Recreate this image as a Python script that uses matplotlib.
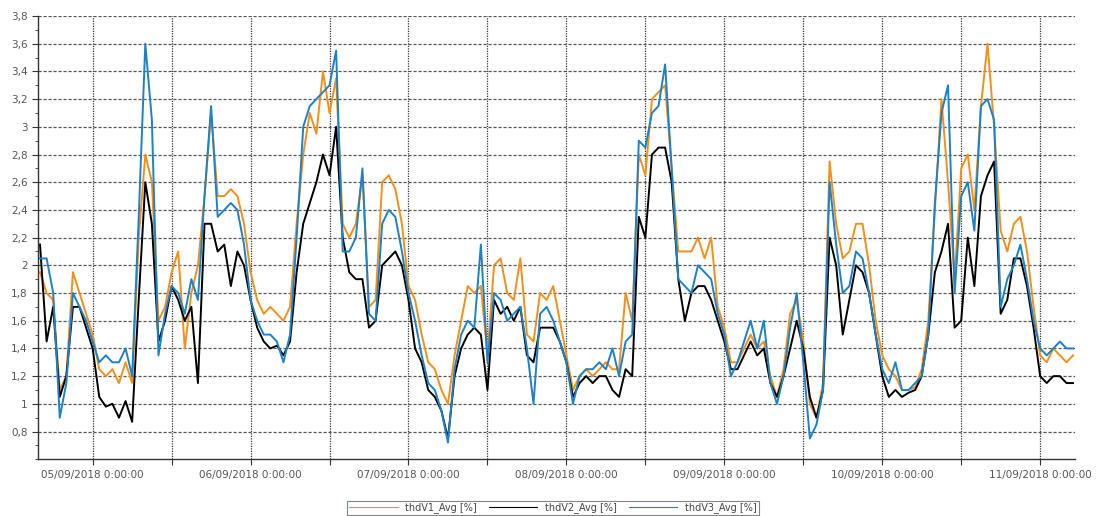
import numpy as np
import matplotlib
matplotlib.use('Agg')
from matplotlib import pyplot as plt
from matplotlib.ticker import MultipleLocator, FuncFormatter

# hours since 05/09/2018 0:00:00
hours = np.arange(-8, 150)

thd_v1 = [1.95, 1.8, 1.75, 1.1, 1.2, 1.95, 1.8, 1.65,
          1.5, 1.25, 1.2, 1.25, 1.15, 1.3, 1.15, 2.2, 2.8, 2.6, 1.6, 1.7,
          1.95, 2.1, 1.4, 1.8, 2.0, 2.5, 3.1, 2.5, 2.5, 2.55, 2.5, 2.3,
          1.95, 1.75, 1.65, 1.7, 1.65, 1.6, 1.7, 2.3, 2.8, 3.1, 2.95, 3.4,
          3.1, 3.35, 2.3, 2.2, 2.3, 2.65, 1.7, 1.75, 2.6, 2.65, 2.55, 2.3,
          1.85, 1.75, 1.5, 1.3, 1.25, 1.1, 1.0, 1.35, 1.6, 1.85, 1.8, 1.85,
          1.35, 2.0, 2.05, 1.8, 1.75, 2.05, 1.5, 1.45, 1.8, 1.75, 1.85, 1.6,
          1.35, 1.1, 1.2, 1.25, 1.2, 1.25, 1.3, 1.25, 1.25, 1.8, 1.6, 2.8,
          2.65, 3.2, 3.25, 3.3, 2.7, 2.1, 2.1, 2.1, 2.2, 2.05, 2.2, 1.7,
          1.55, 1.3, 1.3, 1.4, 1.5, 1.4, 1.45, 1.2, 1.05, 1.25, 1.65, 1.75,
          1.45, 1.0, 0.9, 1.15, 2.75, 2.3, 2.05, 2.1, 2.3, 2.3, 2.0, 1.6,
          1.35, 1.25, 1.2, 1.1, 1.1, 1.12, 1.25, 1.6, 2.4, 3.2, 2.6, 1.9,
          2.7, 2.8, 2.4, 3.15, 3.6, 3.0, 2.25, 2.1, 2.3, 2.35, 2.1, 1.7,
          1.35, 1.3, 1.4, 1.35, 1.3, 1.35]

thd_v2 = [2.15, 1.45, 1.7, 1.05, 1.2, 1.7, 1.7, 1.55,
          1.4, 1.05, 0.98, 1.0, 0.9, 1.02, 0.87, 1.75, 2.6, 2.3, 1.45, 1.6,
          1.85, 1.75, 1.6, 1.7, 1.15, 2.3, 2.3, 2.1, 2.15, 1.85, 2.1, 2.0,
          1.75, 1.55, 1.45, 1.4, 1.42, 1.35, 1.45, 1.95, 2.3, 2.45, 2.6, 2.8,
          2.65, 3.0, 2.2, 1.95, 1.9, 1.9, 1.55, 1.6, 2.0, 2.05, 2.1, 2.0,
          1.75, 1.4, 1.3, 1.1, 1.05, 0.95, 0.75, 1.2, 1.4, 1.5, 1.55, 1.5,
          1.1, 1.75, 1.65, 1.7, 1.6, 1.7, 1.35, 1.3, 1.55, 1.55, 1.55, 1.45,
          1.3, 1.05, 1.15, 1.2, 1.15, 1.2, 1.2, 1.1, 1.05, 1.25, 1.2, 2.35,
          2.2, 2.8, 2.85, 2.85, 2.6, 1.9, 1.6, 1.8, 1.85, 1.85, 1.75, 1.6,
          1.45, 1.25, 1.25, 1.35, 1.45, 1.35, 1.4, 1.15, 1.05, 1.2, 1.4, 1.6,
          1.4, 1.05, 0.9, 1.1, 2.2, 2.0, 1.5, 1.75, 2.0, 1.95, 1.8, 1.5,
          1.2, 1.05, 1.1, 1.05, 1.08, 1.1, 1.2, 1.5, 1.95, 2.1, 2.3, 1.55,
          1.6, 2.2, 1.85, 2.5, 2.65, 2.75, 1.65, 1.75, 2.05, 2.05, 1.85, 1.55,
          1.2, 1.15, 1.2, 1.2, 1.15, 1.15]

thd_v3 = [2.05, 2.05, 1.8, 0.9, 1.15, 1.8, 1.7, 1.6,
          1.45, 1.3, 1.35, 1.3, 1.3, 1.4, 1.2, 2.35, 3.6, 3.05, 1.35, 1.65,
          1.85, 1.8, 1.65, 1.9, 1.75, 2.5, 3.15, 2.35, 2.4, 2.45, 2.4, 2.15,
          1.75, 1.6, 1.5, 1.5, 1.45, 1.3, 1.5, 2.2, 3.0, 3.15, 3.2, 3.25,
          3.3, 3.55, 2.1, 2.1, 2.2, 2.7, 1.65, 1.6, 2.3, 2.4, 2.35, 2.1,
          1.8, 1.6, 1.35, 1.15, 1.1, 0.95, 0.72, 1.25, 1.5, 1.6, 1.55, 2.15,
          1.3, 1.8, 1.75, 1.6, 1.65, 1.7, 1.4, 1.0, 1.65, 1.7, 1.6, 1.45,
          1.3, 1.0, 1.2, 1.25, 1.25, 1.3, 1.25, 1.4, 1.2, 1.45, 1.5, 2.9,
          2.85, 3.1, 3.15, 3.45, 2.7, 1.9, 1.85, 1.8, 2.0, 1.95, 1.9, 1.65,
          1.5, 1.2, 1.3, 1.45, 1.6, 1.4, 1.6, 1.15, 1.0, 1.2, 1.55, 1.8,
          1.3, 0.75, 0.85, 1.1, 2.6, 2.15, 1.8, 1.85, 2.1, 2.05, 1.8, 1.5,
          1.25, 1.15, 1.3, 1.1, 1.1, 1.15, 1.2, 1.5, 2.45, 3.1, 3.3, 1.8,
          2.5, 2.6, 2.25, 3.15, 3.2, 3.05, 1.7, 1.9, 2.0, 2.15, 1.9, 1.6,
          1.4, 1.35, 1.4, 1.45, 1.4, 1.4]

day_labels = ['05/09/2018 0:00:00', '06/09/2018 0:00:00', '07/09/2018 0:00:00',
              '08/09/2018 0:00:00', '09/09/2018 0:00:00', '10/09/2018 0:00:00',
              '11/09/2018 0:00:00']

fig = plt.figure(figsize=(11.06, 5.16), dpi=100)
ax = fig.add_axes([0.0344, 0.110, 0.9376, 0.859])

ax.plot(hours, thd_v1, color='#f0901e', lw=1.4, label='thdV1_Avg [%]')
ax.plot(hours, thd_v2, color='#000000', lw=1.4, label='thdV2_Avg [%]')
ax.plot(hours, thd_v3, color='#1f80c4', lw=1.4, label='thdV3_Avg [%]')

ax.set_xlim(-8.3, 149.3)
ax.set_ylim(0.6, 3.8)

# y axis
ax.set_yticks(np.arange(0.8, 3.81, 0.2))
ax.yaxis.set_major_formatter(FuncFormatter(lambda v, p: ('%g' % round(v, 1)).replace('.', ',')))
ax.yaxis.set_minor_locator(MultipleLocator(0.1))

# x axis: ticks every 12 h, labels every day
xt = np.arange(0, 145, 12)
ax.set_xticks(xt)
ax.set_xticklabels([day_labels[i // 2] if i % 2 == 0 else '' for i in range(len(xt))])

ax.tick_params(axis='both', which='major', labelsize=7.5, labelcolor='#555555',
               length=4, width=0.8, color='#333333')
ax.tick_params(axis='y', which='minor', length=2, width=0.6, color='#333333')

ax.yaxis.grid(True, which='major', linestyle=(0, (2.5, 1.5)), color='#555555', lw=0.9)
ax.xaxis.grid(True, which='major', linestyle=(0, (1, 1)), color='#333333', lw=0.9)
ax.set_axisbelow(True)

for s in ['top', 'right']:
    ax.spines[s].set_visible(False)
for s in ['left', 'bottom']:
    ax.spines[s].set_color('#333333')
    ax.spines[s].set_linewidth(1)

leg = fig.legend(loc='center', bbox_to_anchor=(0.5, 0.0155), ncol=3, fontsize=7,
                 frameon=True, fancybox=False, edgecolor='#666666',
                 handlelength=5, columnspacing=1.2, borderpad=0.2,
                 handletextpad=0.8, labelcolor='#444444')
leg.get_frame().set_linewidth(0.8)
for line in leg.get_lines():
    line.set_linewidth(0.8)

fig.savefig('out.png', dpi=100)
